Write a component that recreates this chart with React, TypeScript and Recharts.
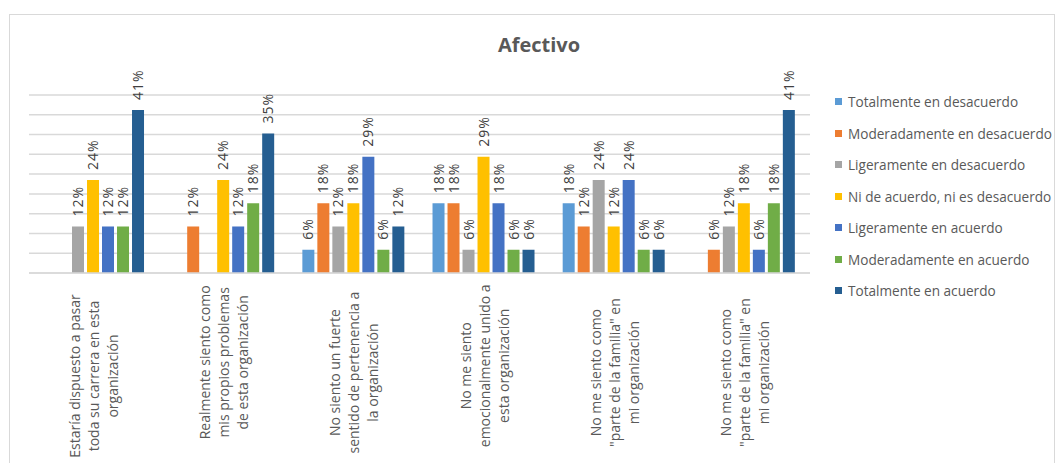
import React from 'react';
import { BarChart, Bar, XAxis, YAxis, CartesianGrid, LabelList } from 'recharts';

// Share of responses (%) per statement, 17 respondents
const categories = [
  'Estaría dispuesto a pasar\ntoda su carrera en esta\norganización',
  'Realmente siento como\nmis propios problemas\nde esta organización',
  'No siento un fuerte\nsentido de pertenencia a\nla organización',
  'No me siento\nemocionalmente unido a\nesta organización',
  'No me siento como\n"parte de la familia" en\nmi organización',
  'No me siento como\n"parte de la familia" en\nmi organización ',
];

const totalDesacuerdo = [null, null, 5.88, 17.65, 17.65, null];
const moderadoDesacuerdo = [null, 11.76, 17.65, 17.65, 11.76, 5.88];
const ligeroDesacuerdo = [11.76, null, 11.76, 5.88, 23.53, 11.76];
const neutral = [23.53, 23.53, 17.65, 29.41, 11.76, 17.65];
const ligeroAcuerdo = [11.76, 11.76, 29.41, 17.65, 23.53, 5.88];
const moderadoAcuerdo = [11.76, 17.65, 5.88, 5.88, 5.88, 17.65];
const totalAcuerdo = [41.18, 35.29, 11.76, 5.88, 5.88, 41.18];

const yTicks = [0, 5, 10, 15, 20, 25, 30, 35, 40, 45];

const series = [
  { key: 'td', name: 'Totalmente en desacuerdo', color: '#5B9BD5', values: totalDesacuerdo },
  { key: 'md', name: 'Moderadamente en desacuerdo', color: '#ED7D31', values: moderadoDesacuerdo },
  { key: 'ld', name: 'Ligeramente en desacuerdo', color: '#A5A5A5', values: ligeroDesacuerdo },
  { key: 'ni', name: 'Ni de acuerdo, ni es desacuerdo', color: '#FFC000', values: neutral },
  { key: 'la', name: 'Ligeramente en acuerdo', color: '#4472C4', values: ligeroAcuerdo },
  { key: 'ma', name: 'Moderadamente en acuerdo', color: '#70AD47', values: moderadoAcuerdo },
  { key: 'ta', name: 'Totalmente en acuerdo', color: '#255E91', values: totalAcuerdo },
];

const data = categories.map((name, i) => {
  const row: Record<string, any> = { name };
  series.forEach(s => { row[s.key] = s.values[i]; });
  return row;
});

const FONT = '"Open Sans", sans-serif';

const CategoryTick = (props: any) => {
  const { x, y, payload } = props;
  const lines: string[] = String(payload.value).trim().split('\n');
  const longest = Math.max(...lines.map(l => l.length));
  const cy = y + 10 + (longest * 6.8) / 2;
  return (
    <g transform={`translate(${x},${cy}) rotate(-90)`}>
      {lines.map((line, i) => (
        <text
          key={i}
          x={0}
          y={(i - (lines.length - 1) / 2) * 19 + 5}
          textAnchor="middle"
          fontSize={14}
          fontFamily={FONT}
          fill="#595959"
        >
          {line}
        </text>
      ))}
    </g>
  );
};

const renderValueLabel = (props: any) => {
  const { x, y, width, value } = props;
  if (value == null) return null;
  const cx = x + width / 2 + 5;
  return (
    <text
      transform={`translate(${cx},${y - 10}) rotate(-90)`}
      textAnchor="start"
      fontSize={14}
      letterSpacing={1}
      fontFamily={FONT}
      fill="#404040"
    >
      {Math.round(value)}%
    </text>
  );
};

const SeriesLegend = () => (
  <div style={{ position: 'absolute', left: 835, top: 86, fontFamily: FONT }}>
    {series.map(s => (
      <div key={s.key} style={{ display: 'flex', alignItems: 'center', height: 31.5 }}>
        <span style={{ width: 7, height: 7, background: s.color, marginRight: 6, display: 'inline-block' }} />
        <span style={{ fontSize: 13.6, color: '#595959', whiteSpace: 'nowrap' }}>{s.name}</span>
      </div>
    ))}
  </div>
);

export default function App() {
  return (
    <div style={{ position: 'relative', width: 1057, height: 463, background: '#fff', overflow: 'hidden' }}>
      <style>{'body{margin:0}'}</style>
      <div
        style={{
          position: 'absolute',
          left: 9,
          top: 14,
          width: 1046,
          height: 460,
          border: '1px solid #d9d9d9',
          boxSizing: 'border-box',
        }}
      />
      <div
        style={{
          position: 'absolute',
          left: 0,
          width: 1078,
          top: 31,
          textAlign: 'center',
          fontFamily: FONT,
          fontWeight: 'bold',
          fontSize: 20,
          color: '#595959',
        }}
      >
        Afectivo
      </div>
      <BarChart
        width={1057}
        height={463}
        data={data}
        margin={{ top: 95, right: 247, bottom: 0, left: 29 }}
        barCategoryGap="10%"
        barGap={3}
        style={{ position: 'absolute', left: 0, top: 0 }}
      >
        <CartesianGrid horizontal vertical={false} stroke="#d9d9d9" strokeWidth={1.5} />
        <YAxis
          width={0}
          domain={[0, 45]}
          ticks={yTicks}
          interval={0}
          axisLine={false}
          tickLine={false}
          tick={() => <g />}
        />
        <XAxis
          dataKey="name"
          interval={0}
          height={190}
          axisLine={{ stroke: '#d9d9d9', strokeWidth: 1.5 }}
          tickLine={false}
          tick={<CategoryTick />}
        />
        {series.map(s => (
          <Bar key={s.key} dataKey={s.key} name={s.name} fill={s.color} isAnimationActive={false}>
            <LabelList dataKey={s.key} content={renderValueLabel} />
          </Bar>
        ))}
      </BarChart>
      <SeriesLegend />
    </div>
  );
}
